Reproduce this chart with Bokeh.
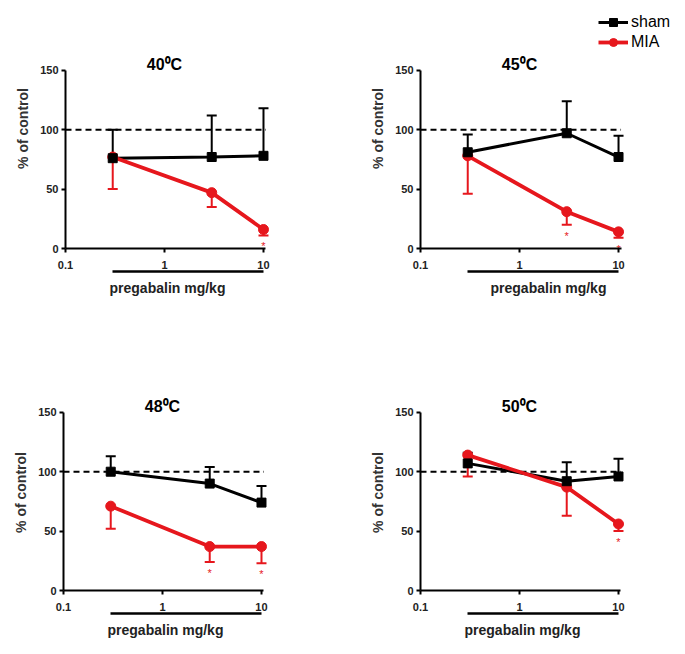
import math
from bokeh.plotting import figure
from bokeh.models import (LogAxis, FixedTicker, Whisker, ColumnDataSource, Legend,
                          LegendItem, TeeHead, Range1d, NumeralTickFormatter, Label)
from bokeh.layouts import column, row
from bokeh.embed import file_html
from bokeh.resources import INLINE
from bokeh.core.properties import value

# ---------------- data ----------------
doses = [0.3, 3, 10]                      # pregabalin mg/kg
x_ticks = [0.1, 1, 10]
y_ticks = [0, 50, 100, 150]
control_level = 100

titles = ["40\u2070C", "45\u2070C", "48\u2070C", "50\u2070C"]

sham_40 = [76, 77, 78]
sham_40_sem = [24, 35, 40]
mia_40 = [77, 47, 16]
mia_40_sem = [27, 12, 5]
mia_40_sig = [0, 0, 1]

sham_45 = [81, 97, 77]
sham_45_sem = [15, 27, 18]
mia_45 = [78, 31, 14]
mia_45_sem = [32, 11, 5]
mia_45_sig = [0, 1, 1]

sham_48 = [100, 90, 74]
sham_48_sem = [13, 14, 14]
mia_48 = [71, 37, 37]
mia_48_sem = [19, 13, 14]
mia_48_sig = [0, 1, 1]

sham_50 = [107, 92, 96]
sham_50_sem = [9, 16, 15]
mia_50 = [114, 87, 56]
mia_50_sem = [18, 24, 6]
mia_50_sig = [0, 0, 1]

# ---------------- style ----------------
RED = "#e6171d"
BLACK = "#000000"
FONT = "Liberation Sans"
X_START = 0.1
X_AXIS_END = 10.6
Y_AXIS_END = 150
DECADE_PX = 99.0
UNIT_PX = 178.0 / 150.0


def panel(title, sham, sham_sem, mia, mia_sem, sig, ml, mr, mt, mb,
          x_end=11.5, y_end=165, legend=False):
    fw = int(round(DECADE_PX * (math.log10(x_end) - math.log10(X_START))))
    fh = int(round(UNIT_PX * y_end))
    p = figure(x_axis_type="log", x_range=Range1d(X_START, x_end), y_range=Range1d(0, y_end),
               frame_width=fw, frame_height=fh,
               min_border_left=ml, min_border_right=mr, min_border_top=mt, min_border_bottom=mb,
               toolbar_location=None, output_backend="svg")
    p.outline_line_color = None
    p.grid.grid_line_color = None

    xa = p.xaxis[0]
    xa.ticker = FixedTicker(ticks=x_ticks)
    xa.formatter = NumeralTickFormatter(format="0.[0]")
    xa.bounds = (X_START, X_AXIS_END)
    ya = p.yaxis[0]
    ya.ticker = FixedTicker(ticks=y_ticks)
    ya.bounds = (0, Y_AXIS_END)
    ya.axis_label = "% of control"
    ya.axis_label_text_font = FONT
    ya.axis_label_text_font_size = "14px"
    ya.axis_label_text_font_style = "bold"
    ya.axis_label_text_color = "#333333"
    ya.axis_label_standoff = 6
    for ax in (xa, ya):
        ax.axis_line_width = 2
        ax.axis_line_color = BLACK
        ax.major_tick_line_width = 2
        ax.major_tick_line_color = BLACK
        ax.major_tick_out = 4
        ax.major_tick_in = 0
        ax.minor_tick_line_color = None
        ax.major_label_text_font = FONT
        ax.major_label_text_font_size = "11px"
        ax.major_label_text_font_style = "bold"
        ax.major_label_text_color = "#222222"
    xa.major_label_standoff = 8
    ya.major_label_standoff = 3

    ax2 = LogAxis(ticker=FixedTicker(ticks=[]), bounds=(min(doses), max(doses)),
                  axis_label="pregabalin mg/kg", axis_line_width=2.5, axis_line_color=BLACK,
                  major_tick_line_color=None, minor_tick_line_color=None,
                  axis_label_standoff=8, axis_label_text_font=FONT,
                  axis_label_text_font_size="14px", axis_label_text_font_style="bold",
                  axis_label_text_color="#222222")
    p.add_layout(ax2, "below")

    # panel title, centred on the middle decade of the axis, just above the top of the y axis
    p.add_layout(Label(x=math.sqrt(x_ticks[0] * x_ticks[-1]), y=Y_AXIS_END, text=title,
                       text_align="center", text_baseline="alphabetic", y_offset=6,
                       text_font=FONT, text_font_size="16px", text_font_style="bold",
                       text_color=BLACK))

    # control reference line
    p.segment(x0=[X_START], x1=[X_AXIS_END], y0=[control_level], y1=[control_level],
              line_color=BLACK, line_width=2, line_dash="6 4")

    s_src = ColumnDataSource(dict(x=doses, y=sham,
                                  up=[m + e for m, e in zip(sham, sham_sem)]))
    m_src = ColumnDataSource(dict(x=doses, y=mia,
                                  lo=[m - e for m, e in zip(mia, mia_sem)]))

    p.add_layout(Whisker(source=s_src, base="x", lower="y", upper="up",
                         line_color=BLACK, line_width=2, lower_head=None,
                         upper_head=TeeHead(size=10, line_color=BLACK, line_width=2)))
    p.add_layout(Whisker(source=m_src, base="x", lower="lo", upper="y",
                         line_color=RED, line_width=2, upper_head=None,
                         lower_head=TeeHead(size=10, line_color=RED, line_width=2)))

    sl = p.line("x", "y", source=s_src, line_color=BLACK, line_width=3)
    ml_ = p.line("x", "y", source=m_src, line_color=RED, line_width=3.8)
    mm = p.scatter("x", "y", source=m_src, marker="circle", size=10,
                   fill_color=RED, line_color=RED)
    sm = p.scatter("x", "y", source=s_src, marker="square", size=9,
                   fill_color=BLACK, line_color=BLACK)

    sx = [d for d, s in zip(doses, sig) if s]
    sy = [m - e for m, e, s in zip(mia, mia_sem, sig) if s]
    if sx:
        p.text(x=sx, y=sy, text=["*"] * len(sx), text_color=RED, text_align="center",
               text_baseline="middle", y_offset=11, text_font_size="11px",
               text_font=value(FONT))

    if legend:
        lg = Legend(items=[LegendItem(label="sham", renderers=[sl, sm]),
                           LegendItem(label="MIA", renderers=[ml_, mm])],
                    location=(178, 196), orientation="vertical",
                    glyph_width=30, glyph_height=20, label_height=20,
                    label_standoff=3, spacing=0, padding=0, margin=0,
                    border_line_color=None, background_fill_alpha=0,
                    label_text_font=FONT, label_text_font_size="16px",
                    label_text_color=BLACK)
        p.add_layout(lg, "center")
    return p


p1 = panel(titles[0], sham_40, sham_40_sem, mia_40, mia_40_sem, mia_40_sig, 65, 61, 8, 55,
           y_end=202)
p2 = panel(titles[1], sham_45, sham_45_sem, mia_45, mia_45_sem, mia_45_sig, 90, 4, 8, 55,
           x_end=38.5, y_end=202, legend=True)
p3 = panel(titles[2], sham_48, sham_48_sem, mia_48, mia_48_sem, mia_48_sig, 63, 63, 91, 50)
p4 = panel(titles[3], sham_50, sham_50_sem, mia_50, mia_50_sem, mia_50_sig, 90, 63, 91, 50)

layout = column(row(p1, p2), row(p3, p4))
open("out.html", "w").write(file_html(layout, INLINE))
